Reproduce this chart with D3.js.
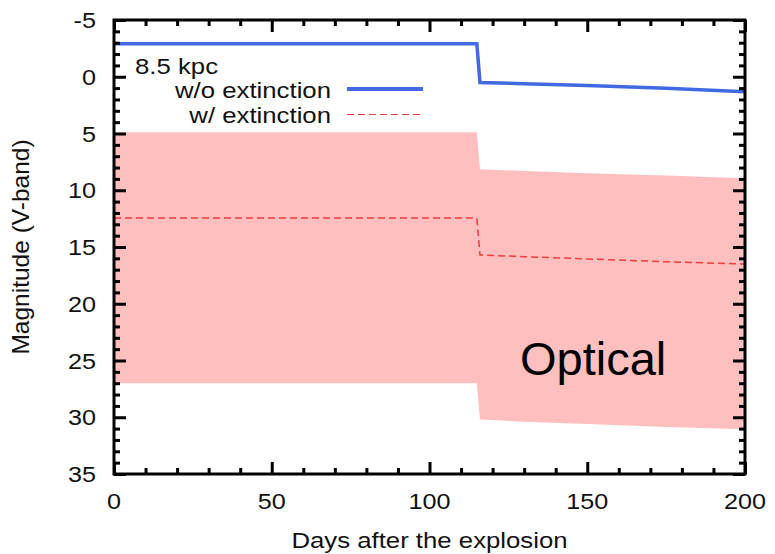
<!DOCTYPE html>
<html><head><meta charset="utf-8">
<script src="https://cdn.jsdelivr.net/npm/d3@7"></script>
<style>
html,body{margin:0;padding:0;background:#fff;}
svg text{font-family:"Liberation Sans",Arial,Helvetica,sans-serif;fill:#111;}
</style></head>
<body><svg id="c" width="775" height="554"></svg>
<script>
// ---- data ----
const days       = [0, 115, 116, 130, 150, 175, 200];
const woExt      = [-2.9, -2.9, 0.5, 0.62, 0.76, 1.02, 1.32];
const wExt       = [12.45, 12.45, 15.7, 15.85, 16.05, 16.3, 16.5];
const bandTop    = [4.9, 4.9, 8.15, 8.3, 8.5, 8.7, 8.95];
const bandBottom = [27.0, 27.0, 30.2, 30.4, 30.6, 30.85, 31.05];
const xTicks = [0, 50, 100, 150, 200];
const yTicks = [-5, 0, 5, 10, 15, 20, 25, 30, 35];
const legendTitle = "8.5 kpc";
const seriesNames = ["w/o extinction", "w/ extinction"];
const xLabel = "Days after the explosion";
const yLabel = "Magnitude (V-band)";
const bandLabel = "Optical";

// ---- layout ----
const svg = d3.select("#c");
const L = 114, R = 745, T = 20, B = 474;
const SX = 1.12;
const x = d3.scaleLinear().domain([0, 200]).range([L, R]);
const y = d3.scaleLinear().domain([-5, 35]).range([T, B]);
const blue = "#4169e1", red = "#f03c3c", pink = "#ffbfbf";

const pts = days.map((d, i) => ({d, wo: woExt[i], w: wExt[i], t: bandTop[i], b: bandBottom[i]}));

// band
svg.append("path").datum(pts)
  .attr("d", d3.area().x(p => x(p.d)).y0(p => y(p.t)).y1(p => y(p.b)))
  .attr("fill", pink);

// lines
svg.append("path").datum(pts)
  .attr("d", d3.line().x(p => x(p.d)).y(p => y(p.w)))
  .attr("fill", "none").attr("stroke", red).attr("stroke-width", 1.5)
  .attr("stroke-dasharray", "7,4");
svg.append("path").datum(pts)
  .attr("d", d3.line().x(p => x(p.d)).y(p => y(p.wo)))
  .attr("fill", "none").attr("stroke", blue).attr("stroke-width", 3.5)
  .attr("stroke-linejoin", "miter");

// Optical label
svg.append("text").attr("x", 520).attr("y", 375)
  .attr("font-size", 47).style("fill", "#000").text(bandLabel);

// axes (ticks inward, mirrored)
function ax(gen, scale, vals, size, tr) {
  svg.append("g").attr("transform", tr)
    .call(gen(scale).tickValues(vals).tickSize(size).tickSizeOuter(0).tickFormat(""))
    .call(g => { g.select(".domain").remove(); g.selectAll("line").attr("stroke", "#000").attr("stroke-width", 3); });
}
const xMinor = d3.range(0, 201, 10).filter(v => v % 50 !== 0);
const yMinor = d3.range(-5, 36, 1).filter(v => v % 5 !== 0);
ax(d3.axisBottom, x, xTicks, -12, `translate(0,${B})`);
ax(d3.axisBottom, x, xMinor, -6, `translate(0,${B})`);
ax(d3.axisTop, x, xTicks, -12, `translate(0,${T})`);
ax(d3.axisTop, x, xMinor, -6, `translate(0,${T})`);
ax(d3.axisLeft, y, yTicks, -12, `translate(${L},0)`);
ax(d3.axisLeft, y, yMinor, -6, `translate(${L},0)`);
ax(d3.axisRight, y, yTicks, -12, `translate(${R},0)`);
ax(d3.axisRight, y, yMinor, -6, `translate(${R},0)`);

// frame
svg.append("rect").attr("x", L).attr("y", T).attr("width", R - L).attr("height", B - T)
  .attr("fill", "none").attr("stroke", "#000").attr("stroke-width", 3);

function stext(px, py, s, size, anchor) {
  return svg.append("text").attr("transform", `translate(${px},${py}) scale(${SX},1)`)
    .attr("font-size", size).attr("text-anchor", anchor || "start").text(s);
}
// tick labels
xTicks.forEach(v => stext(x(v), 509, v, 22.5, "middle"));
yTicks.forEach(v => stext(96, y(v) + 8, v, 22.5, "end"));

// axis titles
stext((L + R) / 2 + 0, 548, xLabel, 23, "middle");
svg.append("text").attr("transform", `translate(29,${(T + B) / 2}) rotate(-90)`)
  .attr("font-size", 24.5).attr("text-anchor", "middle").text(yLabel);

// legend
stext(135, 74, legendTitle, 23, "start");
stext(331, 98, seriesNames[0], 23, "end");
stext(331, 122.5, seriesNames[1], 23, "end");
svg.append("line").attr("x1", 347).attr("x2", 423).attr("y1", 89).attr("y2", 89)
  .attr("stroke", blue).attr("stroke-width", 4);
svg.append("line").attr("x1", 347).attr("x2", 423).attr("y1", 114.5).attr("y2", 114.5)
  .attr("stroke", red).attr("stroke-width", 1.2).attr("stroke-dasharray", "7,4");
</script></body></html>
